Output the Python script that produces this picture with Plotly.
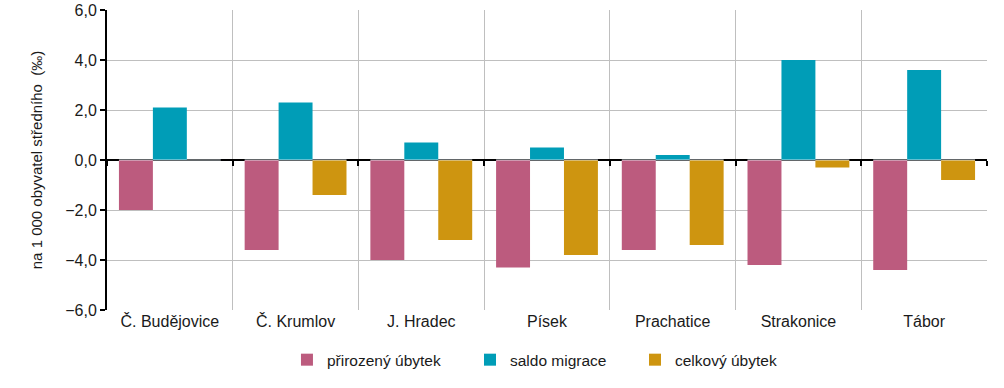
import plotly.graph_objects as go

okresy = ["Č. Budějovice", "Č. Krumlov", "J. Hradec", "Písek",
          "Prachatice", "Strakonice", "Tábor"]
prirozeny = [-2.0, -3.6, -4.0, -4.3, -3.6, -4.2, -4.4]
saldo = [2.1, 2.3, 0.7, 0.5, 0.2, 4.0, 3.6]
celkovy = [None, -1.4, -3.2, -3.8, -3.4, -0.3, -0.8]

barvy = ["#BC5B7E", "#009DB7", "#CE9510"]
nazvy = ["přirozený úbytek", "saldo migrace", "celkový úbytek"]
legendy = ["legend", "legend2", "legend3"]

fig = go.Figure()
for hodnoty, barva, nazev, leg in zip([prirozeny, saldo, celkovy], barvy, nazvy, legendy):
    fig.add_trace(go.Bar(x=okresy, y=hodnoty, name=nazev, legend=leg,
                         marker=dict(color=barva, line=dict(width=0))))

# neviditelna stopa pro osu s carkami na nulove linii
fig.add_trace(go.Bar(x=okresy, y=[0] * len(okresy), xaxis="x2",
                     showlegend=False, hoverinfo="skip",
                     marker=dict(color="rgba(0,0,0,0)")))

font = "Liberation Sans, Arial, sans-serif"
leg_styl = dict(orientation="h", y=-0.167, yanchor="middle", xanchor="left",
                font=dict(size=15.5), itemwidth=30, bgcolor="rgba(0,0,0,0)")

fig.update_layout(
    width=1004, height=388,
    margin=dict(l=107, r=17, t=10, b=78, autoexpand=False),
    plot_bgcolor="white", paper_bgcolor="white",
    barmode="group", bargap=0.19, bargroupgap=0,
    separators=", ",
    font=dict(family=font, size=16, color="#1a1a1a"),
    xaxis=dict(
        tickson="boundaries", showgrid=True, gridcolor="#BFBFBF", gridwidth=1,
        ticks="", showline=False, zeroline=False, automargin=False,
        tickfont=dict(size=16),
    ),
    xaxis2=dict(
        overlaying="x", matches="x", anchor="free", position=0.5,
        tickson="boundaries", ticks="outside", ticklen=5, tickwidth=2,
        tickcolor="black", showticklabels=False, showgrid=False,
        showline=False, zeroline=False, automargin=False,
    ),
    yaxis=dict(
        range=[-6, 6], dtick=2, tickformat=".1f", automargin=False,
        showgrid=True, gridcolor="#BFBFBF", gridwidth=1,
        zeroline=True, zerolinecolor="black", zerolinewidth=2,
        showline=True, linecolor="black", linewidth=2,
        ticks="outside", ticklen=5, tickwidth=2, tickcolor="black",
        title=dict(text="na 1 000 obyvatel středního  (‰)",
                   font=dict(size=15), standoff=19),
        tickfont=dict(size=16),
    ),
    legend=dict(x=0.2045, **leg_styl),
    legend2=dict(x=0.4125, **leg_styl),
    legend3=dict(x=0.6000, **leg_styl),
    showlegend=True,
)

# bez okraje stranky, aby graf sedel v okne
fig.write_html("out.html", config={"displayModeBar": False},
               post_script="document.body.style.margin='0';")
